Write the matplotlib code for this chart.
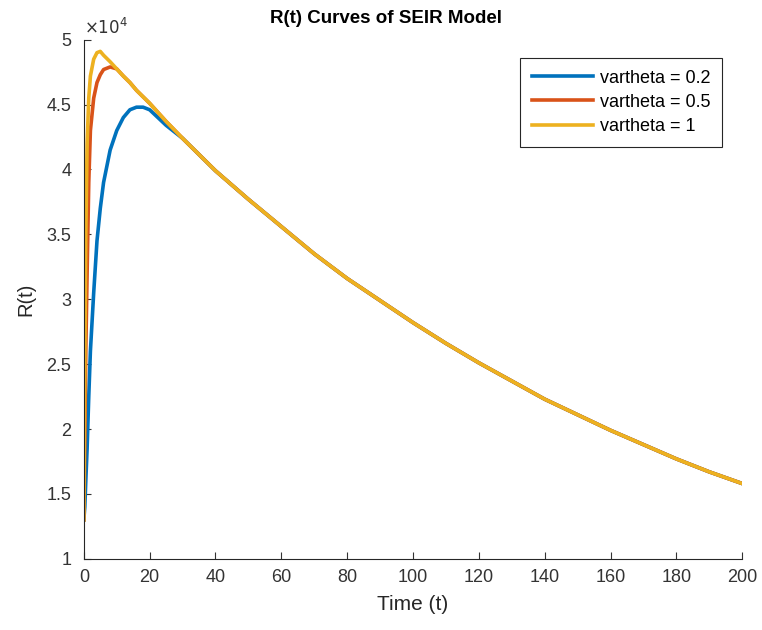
import matplotlib.pyplot as plt
from matplotlib.ticker import FuncFormatter

plt.rcParams['font.family'] = ['Liberation Sans', 'DejaVu Sans']

# time points (days)
t_rise = [0, 0.3, 0.6, 1, 1.5, 2, 3, 4, 5, 6, 8, 10, 12, 14, 16, 18, 20, 25, 30]
t_tail = [40, 50, 60, 70, 80, 90, 100, 110, 120, 130, 140, 150,
          160, 170, 180, 190, 200]

# R(t) values (x1e4) for each vartheta, rising part
r_02 = [1.30, 1.40, 1.60, 1.85, 2.25, 2.60, 3.05, 3.45, 3.70, 3.90, 4.15,
        4.30, 4.40, 4.46, 4.48, 4.48, 4.46, 4.34, 4.24]
r_05 = [1.30, 1.90, 2.60, 3.20, 3.90, 4.30, 4.55, 4.67, 4.73, 4.77, 4.79,
        4.775, 4.72, 4.67, 4.61, 4.56, 4.51, 4.37, 4.24]
r_1 = [1.30, 2.50, 3.50, 4.20, 4.55, 4.72, 4.85, 4.90, 4.91, 4.88, 4.83,
       4.775, 4.72, 4.67, 4.61, 4.56, 4.51, 4.37, 4.24]

# shared decay after the curves merge
r_tail = [3.99, 3.77, 3.56, 3.35, 3.16, 2.99, 2.82, 2.66, 2.51, 2.37, 2.23,
          2.11, 1.99, 1.88, 1.77, 1.67, 1.58]

labels = ['vartheta = 0.2', 'vartheta = 0.5', 'vartheta = 1']
colors = ['#0072BD', '#D95319', '#EDB120']

t = t_rise + t_tail
series = [r_02 + r_tail, r_05 + r_tail, r_1 + r_tail]

fig = plt.figure(figsize=(7.62, 6.30), dpi=100)
ax = fig.add_axes([0.110, 0.113, 0.864, 0.824])

for vals, lab, c in zip(series, labels, colors):
    ax.plot(t, [v * 1e4 for v in vals], color=c, lw=2.6, label=lab)

ax.set_xlim(0, 200)
ax.set_ylim(1e4, 5e4)
ax.set_xticks(range(0, 201, 20))
ax.set_yticks([1e4 + 5e3 * i for i in range(9)])
ax.yaxis.set_major_formatter(FuncFormatter(lambda v, p: f'{v / 1e4:g}'))

for s in ['top', 'right']:
    ax.spines[s].set_visible(False)
for s in ['left', 'bottom']:
    ax.spines[s].set_color('#262626')
    ax.spines[s].set_linewidth(0.8)
ax.tick_params(direction='in', length=5, width=0.8, colors='#333333',
               labelsize=13, pad=7)
ax.tick_params(axis='y', pad=9)

ax.text(0.0, 1.006, r'$\times10^4$', transform=ax.transAxes,
        fontsize=12, color='#333333', va='bottom', ha='left')

ax.set_title('R(t) Curves of SEIR Model', fontsize=13.5, fontweight='bold',
             x=0.459, pad=12)
ax.set_xlabel('Time (t)', fontsize=15, color='#262626', labelpad=7)
ax.set_ylabel('R(t)', fontsize=14.5, color='#262626', labelpad=8)

leg = ax.legend(loc='upper right', bbox_to_anchor=(0.970, 0.965),
                borderaxespad=0, fontsize=13, handlelength=3.4,
                handletextpad=0.4, fancybox=False, edgecolor='#262626',
                framealpha=1, borderpad=0.65, labelspacing=0.4)
leg.get_frame().set_linewidth(0.8)

fig.savefig('out.png', dpi=100)
